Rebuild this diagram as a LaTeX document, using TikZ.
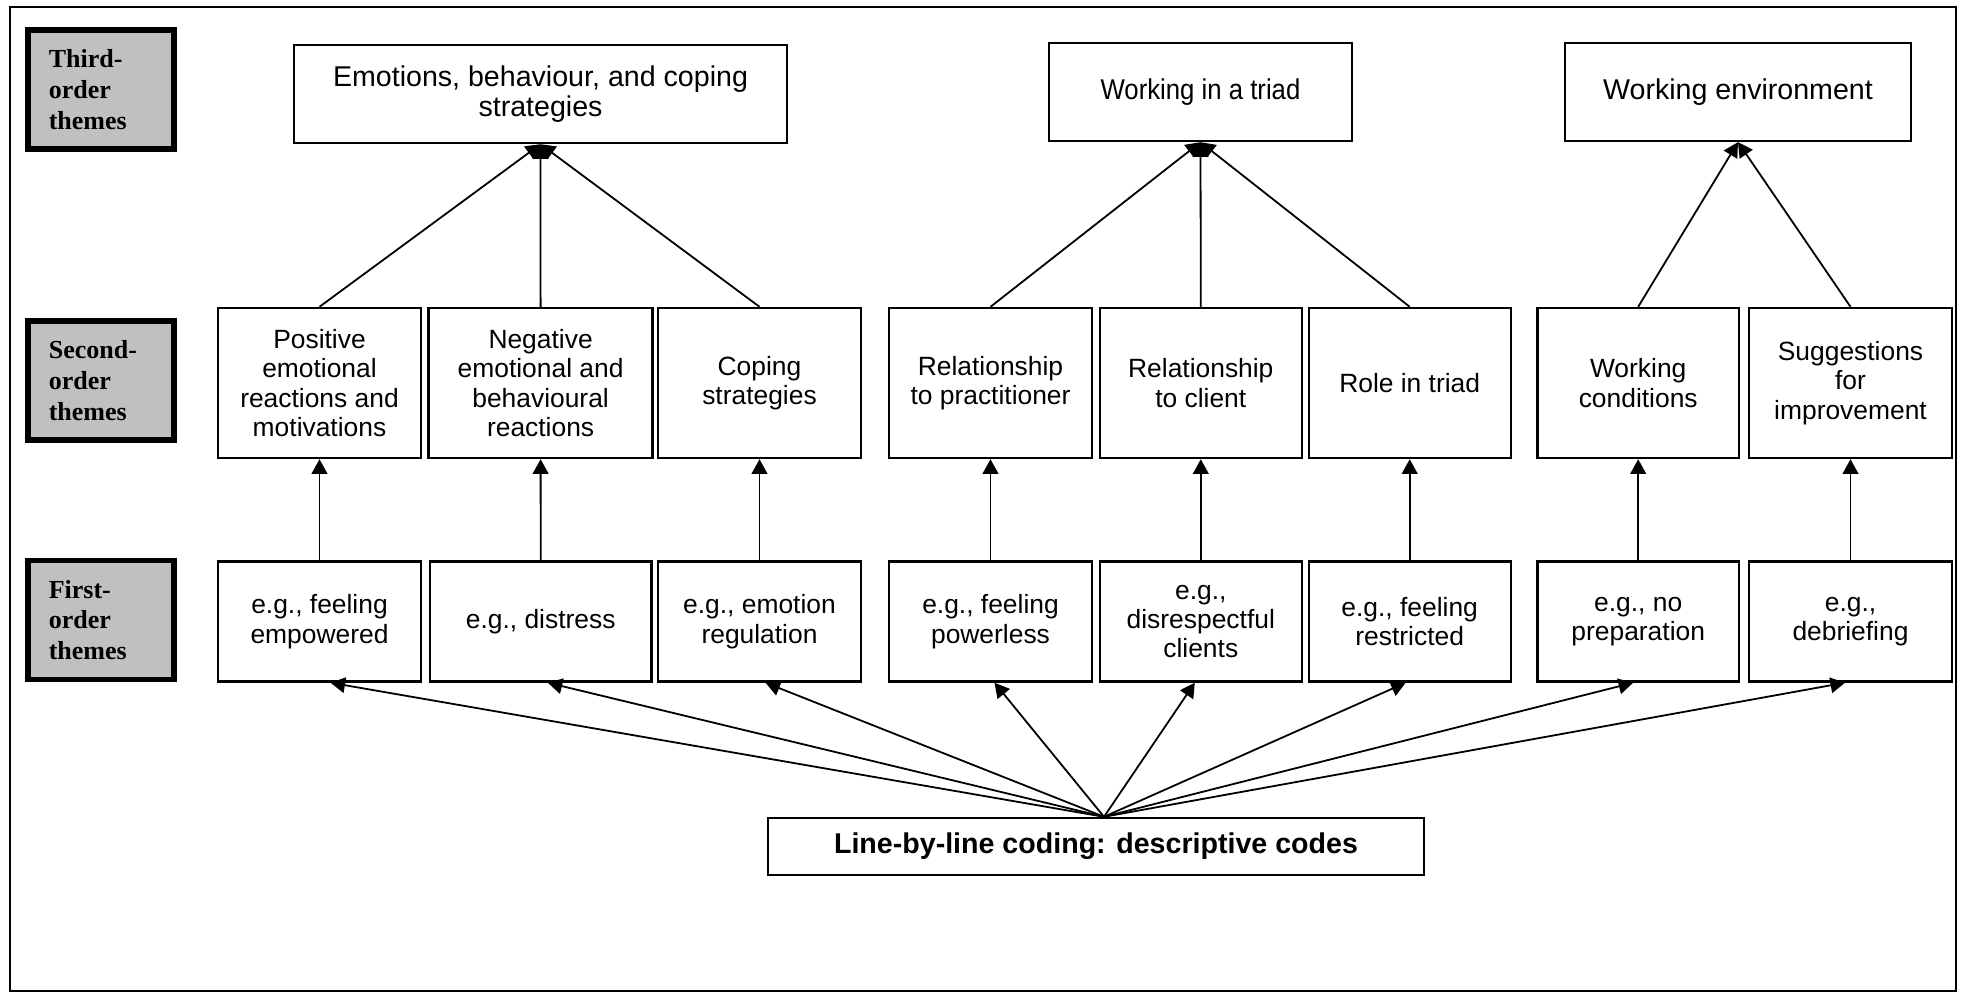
\documentclass[tikz,border=0pt]{standalone}
\usepackage{fontspec}
\setmainfont{Liberation Sans}
\newfontfamily\narrowsans{Liberation Sans}[FakeStretch=0.9]
\newfontfamily\lblfont{Liberation Serif}
\usetikzlibrary{arrows.meta,calc}
\definecolor{lblgray}{RGB}{192,192,192}
\begin{document}
\begin{tikzpicture}[x=0.5pt,y=-0.5pt,
  box/.style={draw, line width=1.2pt, inner sep=0pt, align=center,
    font=\fontsize{13.2}{14.7}\selectfont},
  lbl/.style={draw, line width=2.8pt, fill=lblgray, minimum height=59.5pt,
    text width=52.2pt, inner xsep=10.5pt, inner ysep=0pt, align=left,
    font=\lblfont\bfseries\fontsize{13}{15.4}\selectfont},
  con/.style={line width=0.9pt},
  arr/.style={con, -{Triangle[length=7.3pt,width=7.8pt]}},
  trow/.style={box, minimum height=49pt, font=\fontsize{14.3}{15.3}\selectfont},
  srow/.style={box, minimum height=75pt},
  frow/.style={box, minimum height=60pt}]
\useasboundingbox (0,0) rectangle (1966,994);
\draw[line width=0.7pt] (10,7) rectangle (1956,991);

% row labels
\node[lbl] (l3) at (101,89.5) {Third-\\order\\themes};
\node[lbl] (l2) at (101,380.5) {Second-\\order\\themes};
\node[lbl] (l1) at (101,620) {First-\\order\\themes};

% third-order themes
\node[trow, minimum width=246.5pt] (t1) at (540.5,94) {Emotions, behaviour, and coping\\strategies};
\node[trow, minimum width=151.5pt, font=\narrowsans\fontsize{14.3}{15.3}\selectfont] (t2) at (1200.5,92) {Working in a triad};
\node[trow, minimum width=173pt] (t3) at (1738,92) {Working environment};

% second-order themes
\node[srow, minimum width=101.5pt] (s1) at (319.5,383) {Positive\\emotional\\reactions and\\motivations};
\node[srow, minimum width=112pt] (s2) at (540.6,383) {Negative\\emotional and\\behavioural\\reactions};
\node[srow, minimum width=101.5pt] (s3) at (759.5,383) {Coping\\strategies};
\node[srow, minimum width=101.5pt] (s4) at (990.5,383) {Relationship\\to practitioner};
\node[srow, minimum width=101pt] (s5) at (1200.8,383) {Relationship\\to client};
\node[srow, minimum width=101pt] (s6) at (1409.7,383) {Role in triad};
\node[srow, minimum width=100.75pt] (s7) at (1638.2,383) {Working\\conditions};
\node[srow, minimum width=101.5pt] (s8) at (1850.5,383) {Suggestions\\for\\improvement};

% first-order themes
\node[frow, minimum width=101.5pt] (f1) at (319.5,621.5) {e.g., feeling\\empowered};
\node[frow, minimum width=110.75pt] (f2) at (540.7,621.5) {e.g., distress};
\node[frow, minimum width=101.5pt] (f3) at (759.5,621.5) {e.g., emotion\\regulation};
\node[frow, minimum width=101.5pt] (f4) at (990.5,621.5) {e.g., feeling\\powerless};
\node[frow, minimum width=101pt] (f5) at (1200.8,621.5) {e.g.,\\disrespectful\\clients};
\node[frow, minimum width=101pt] (f6) at (1409.7,621.5) {e.g., feeling\\restricted};
\node[frow, minimum width=100.75pt] (f7) at (1638.2,621.5) {e.g., no\\preparation};
\node[frow, minimum width=101.5pt] (f8) at (1850.5,621.5) {e.g.,\\debriefing};

% coding box
\node[box, minimum width=328pt, minimum height=28.5pt, font=\bfseries\fontsize{14.3}{15}\selectfont] (code) at (1096,846.5) {Line-by-line coding: descriptive codes};

% connectors to third-order
\foreach \s in {s1,s2,s3} \draw[arr] (\s.north) -- (t1.south);
\foreach \s in {s4,s5,s6} \draw[arr] (\s.north) -- (t2.south);
\foreach \s in {s7,s8} \draw[arr] (\s.north) -- (t3.south);

% first to second
\foreach \i in {1,...,8} \draw[arr] (f\i.north) -- (s\i.south);

% fan from coding box
\coordinate (o) at ([xshift=4pt]code.north);
\draw[arr] (o) -- ([xshift=5.5pt]f1.south);
\draw[arr] (o) -- ([xshift=3.5pt]f2.south);
\draw[arr] (o) -- ([xshift=3pt]f3.south);
\draw[arr] (o) -- ([xshift=2pt]f4.south);
\draw[arr] (o) -- ([xshift=-3pt]f5.south);
\draw[arr] (o) -- ([xshift=-2pt]f6.south);
\draw[arr] (o) -- ([xshift=-2.5pt]f7.south);
\draw[arr] (o) -- ([xshift=-2.7pt]f8.south);
\end{tikzpicture}
\end{document}
